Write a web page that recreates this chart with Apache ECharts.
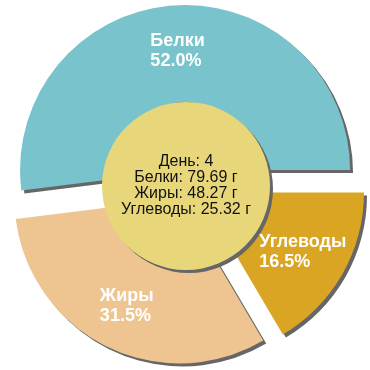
<!DOCTYPE html>
<html><head><meta charset="utf-8">
<script src="https://cdn.jsdelivr.net/npm/echarts@6/dist/echarts.min.js"></script>
<style>html,body{margin:0;padding:0;background:#fff}#c{width:370px;height:370px}</style>
</head><body><div id="c"></div>
<script>
const categories = ['Белки', 'Жиры', 'Углеводы'];
const grams = [79.69, 48.27, 25.32];
const colors = ['#78c3cc', '#eec591', '#d9a523'];
const day = 4;
const unit = 'г';

const chart = echarts.init(document.getElementById('c'), null, {renderer: 'canvas'});
const font = 'Liberation Sans, Arial, sans-serif';
const shadow = {shadowColor: '#666666', shadowBlur: 0, shadowOffsetX: 3, shadowOffsetY: 3};

const centerText = ['День: ' + day].concat(categories.map((c, i) => c + ': ' + grams[i].toFixed(2) + ' ' + unit)).join('\n');

chart.setOption({
  backgroundColor: '#ffffff',
  animation: false,
  series: [
    {
      type: 'pie',
      center: [186, 185],
      radius: [68, 165],
      startAngle: 0,
      clockwise: false,
      selectedMode: 'multiple',
      selectedOffset: 15,
      silent: true,
      emphasis: {disabled: true, scale: false},
      itemStyle: Object.assign({borderWidth: 0}, shadow),
      label: {
        show: true,
        position: 'inside',
        formatter: p => '{a|' + p.name + '}\n{a|' + p.percent.toFixed(1) + '%}',
        rich: {
          a: {align: 'left', color: '#ffffff', fontWeight: 'bold', fontSize: 18, fontFamily: font, lineHeight: 20}
        }
      },
      labelLine: {show: false},
      data: categories.map((c, i) => ({name: c, value: grams[i], selected: true, itemStyle: {color: colors[i]}}))
    },
    {
      type: 'pie',
      center: [186, 186],
      radius: [0, 84],
      silent: true,
      emphasis: {disabled: true, scale: false},
      itemStyle: Object.assign({color: '#e8d77a', borderWidth: 0}, shadow),
      label: {
        show: true,
        position: 'center',
        formatter: centerText,
        color: '#111111',
        fontSize: 16,
        lineHeight: 16,
        fontFamily: font,
        padding: [0, 0, 4, 0]
      },
      labelLine: {show: false},
      data: [{name: 'center', value: 1}]
    }
  ]
});
</script></body></html>
